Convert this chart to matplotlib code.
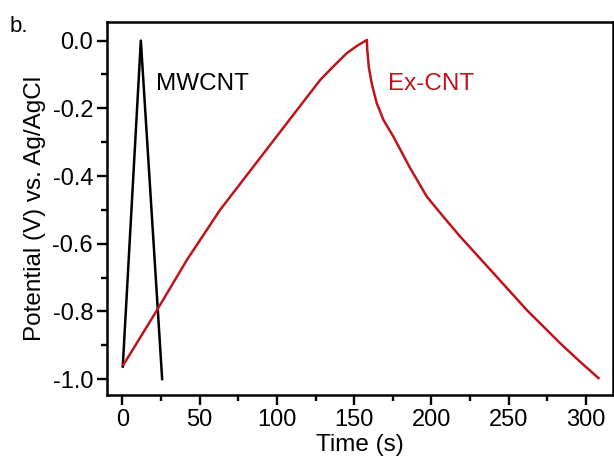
import matplotlib
matplotlib.use("Agg")
from matplotlib import pyplot as plt
from matplotlib.ticker import MultipleLocator

plt.rcParams['font.family'] = ['Liberation Sans', 'DejaVu Sans']

# MWCNT charge/discharge
mw_t = [0.2, 11.9, 25.7]
mw_v = [-0.963, 0.0, -1.0]

# Ex-CNT charge then discharge
ex_t = [0.6, 21.2, 41.7, 63.2, 84.8, 106.4, 128.0, 137.0, 145.2, 152.0, 158.2,
        158.4, 159.5, 161.5, 164.6, 169.0, 175.4, 186.0, 197.0, 208.0, 218.6,
        240.1, 261.7, 283.3, 296.0, 308.1]
ex_v = [-0.958, -0.805, -0.648, -0.500, -0.372, -0.244, -0.116, -0.074, -0.037, -0.015, 0.002,
        -0.025, -0.080, -0.130, -0.185, -0.235, -0.284, -0.375, -0.461, -0.522, -0.579,
        -0.687, -0.796, -0.894, -0.948, -0.997]

red = '#c0141c'

fig = plt.figure(figsize=(6.14, 4.58), dpi=100)
ax = fig.add_axes([107/614, 1-395/458, 506/614, 373/458])

ax.plot(mw_t, mw_v, color='black', lw=1.8)
ax.plot(ex_t, ex_v, color=red, lw=1.8)

ax.text(21.8, -0.146, 'MWCNT', fontsize=17.5, color='black')
ax.text(172, -0.146, 'Ex-CNT', fontsize=17.5, color=red)

ax.set_xlim(-10, 317.5)
ax.set_ylim(-1.047, 0.055)
ax.xaxis.set_major_locator(MultipleLocator(50))
ax.xaxis.set_minor_locator(MultipleLocator(25))
ax.yaxis.set_major_locator(MultipleLocator(0.2))
ax.yaxis.set_minor_locator(MultipleLocator(0.1))
ax.yaxis.set_major_formatter(plt.FuncFormatter(lambda v, p: '%.1f' % v))

ax.tick_params(which='major', direction='out', length=7, width=1.7, labelsize=17, pad=3)
ax.tick_params(which='minor', direction='out', length=4, width=1.7)
for s in ax.spines.values():
    s.set_linewidth(1.8)

ax.set_xlabel('Time (s)', fontsize=17.5, labelpad=2)
ax.set_ylabel('Potential (V) vs. Ag/AgCl', fontsize=17.5, labelpad=5)

fig.text(10/614, 1-32/458, 'b.', fontsize=16)

fig.savefig('out.png', dpi=100)
